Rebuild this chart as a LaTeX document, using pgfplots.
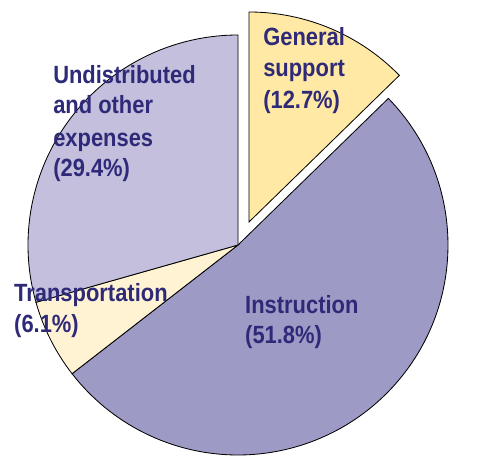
\documentclass[border=0pt]{standalone}
\usepackage{fontspec}
\setmainfont{Liberation Sans}[FakeStretch=0.88]
\usepackage{pgfplots}
\pgfplotsset{compat=1.18}
\definecolor{gscol}{HTML}{FFE9A5}
\definecolor{inscol}{HTML}{9E9AC6}
\definecolor{trcol}{HTML}{FFF3D3}
\definecolor{undcol}{HTML}{C3BFDD}
\definecolor{txtcol}{HTML}{2E2A78}
\def\R{2.1in}
\begin{document}
\begin{tikzpicture}
\begin{axis}[hide axis, scale only axis, x=2.1in, y=2.1in,
  xmin=-1.13333, xmax=1.2, ymin=-1.05238, ymax=1.16667, clip=false]
% shares (%) clockwise from top: General support 12.7, Instruction 51.8, Transportation 6.1, Undistributed 29.4
\draw[fill=inscol, line width=0.6pt] (axis cs:0,0) -- ++({90-3.6*12.7}:\R)
  arc[start angle={90-3.6*12.7}, end angle={90-3.6*(12.7+51.8)}, radius=\R] -- cycle;
\draw[fill=trcol, line width=0.6pt] (axis cs:0,0) -- ++({90-3.6*(12.7+51.8)}:\R)
  arc[start angle={90-3.6*(12.7+51.8)}, end angle={90-3.6*(12.7+51.8+6.1)}, radius=\R] -- cycle;
\draw[fill=undcol, line width=0.6pt] (axis cs:0,0) -- ++({90-3.6*(12.7+51.8+6.1)}:\R)
  arc[start angle={90-3.6*(12.7+51.8+6.1)}, end angle={90-3.6*(12.7+51.8+6.1+29.4)}, radius=\R] -- cycle;
\draw[fill=gscol, line width=0.6pt, shift={(0.11in,0.23in)}] (axis cs:0,0) -- ++(90:\R)
  arc[start angle=90, end angle={90-3.6*12.7}, radius=\R] -- cycle;
\begin{scope}[every node/.style={anchor=base west, inner sep=0pt, text=txtcol,
   font=\bfseries\fontsize{18}{22}\selectfont}]
\node at (axis cs:0.119,0.952) {General};
\node at (axis cs:0.119,0.800) {support};
\node at (axis cs:0.119,0.652) {(12.7\%)};
\node at (axis cs:-0.881,0.771) {Undistributed};
\node at (axis cs:-0.881,0.624) {and other};
\node at (axis cs:-0.881,0.471) {expenses};
\node at (axis cs:-0.881,0.324) {(29.4\%)};
\node at (axis cs:-1.067,-0.271) {Transportation};
\node at (axis cs:-1.067,-0.419) {(6.1\%)};
\node at (axis cs:0.033,-0.324) {Instruction};
\node at (axis cs:0.033,-0.471) {(51.8\%)};
\end{scope}
\end{axis}
\path (current axis.south west) rectangle (current axis.north east);
\end{tikzpicture}
\end{document}
